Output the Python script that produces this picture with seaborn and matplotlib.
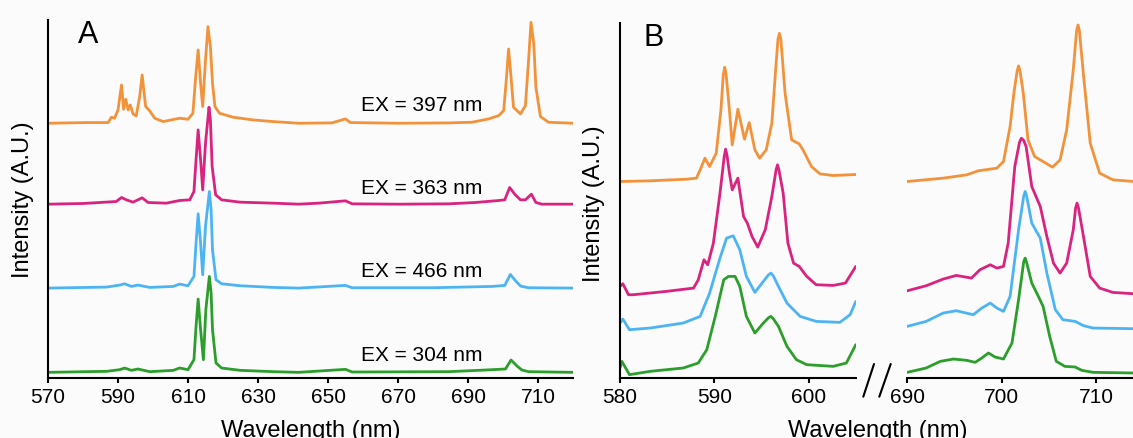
import numpy as np
import pandas as pd
import matplotlib
matplotlib.use("Agg")
import matplotlib.pyplot as plt
from matplotlib.lines import Line2D
import seaborn as sns

# ---------------- Panel A: full emission spectra (A.U.) ----------------
a_orange_wl = [570.0, 581.0, 587.2, 588.1, 589.0, 590.0, 591.0, 591.6, 592.2, 592.9, 593.5, 594.3,
               595.2, 596.2, 596.9, 597.9, 599.0, 600.5, 602.9, 607.6, 610.0, 611.4, 612.2, 612.9,
               613.6, 614.2, 615.0, 615.7, 616.4, 617.0, 617.7, 619.0, 622.9, 628.6, 634.3, 641.6,
               651.1, 655.0, 656.4, 670.2, 684.5, 691.1, 695.9, 698.8, 700.2, 701.0, 701.6, 702.3,
               703.0, 705.0, 706.4, 707.3, 708.0, 708.8, 709.4, 710.7, 713.0, 720.0]
a_orange_int = [0, 2, 2, 18, 15, 40, 115, 42, 72, 40, 55, 28,
                22, 80, 145, 50, 38, 15, 5, 15, 12, 30, 140, 220,
                120, 50, 190, 290, 230, 120, 50, 30, 18, 10, 5, 0,
                1, 13, 2, 0, 1, 3, 13, 23, 38, 138, 223, 138,
                48, 28, 53, 188, 303, 238, 108, 20, 3, 0]

a_magenta_wl = [570.0, 580.0, 589.5, 591.0, 592.4, 594.3, 596.9, 598.6, 603.8, 607.6, 610.5, 611.7,
                612.3, 612.9, 613.6, 614.2, 615.0, 616.0, 616.4, 616.9, 617.9, 619.6, 624.9, 634.4,
                641.6, 647.3, 655.0, 656.9, 670.2, 684.5, 692.1, 698.8, 700.5, 701.9, 703.5, 705.0,
                706.4, 708.1, 709.4, 711.1, 720.0]
a_magenta_int = [0, 2, 8, 20, 13, 6, 19, 5, 3, 11, 13, 38,
                 133, 223, 133, 43, 183, 291, 253, 113, 28, 13, 6, 3,
                 0, 3, 10, 1, 0, 1, 5, 11, 13, 50, 28, 13,
                 13, 30, 5, 0, 0]

a_blue_wl = [570.0, 586.7, 590.5, 591.9, 593.8, 595.7, 599.1, 605.8, 607.6, 610.0, 611.7, 612.3,
             612.9, 613.6, 614.2, 615.0, 616.1, 616.6, 617.0, 618.0, 619.6, 624.9, 634.4, 641.6,
             655.0, 656.9, 679.7, 696.9, 700.5, 702.1, 703.5, 705.0, 707.3, 720.0]
a_blue_int = [0, 3, 9, 13, 5, 9, 2, 5, 12, 7, 35, 135,
              223, 135, 40, 185, 290, 235, 115, 25, 13, 7, 2, 0,
              8, 1, 1, 5, 8, 41, 23, 6, 1, 0]

a_green_wl = [570.0, 586.7, 590.5, 591.9, 593.8, 595.7, 599.1, 605.8, 607.6, 610.0, 611.7, 612.3,
              612.9, 613.6, 614.4, 615.1, 616.1, 616.6, 617.0, 618.0, 619.6, 624.9, 634.4, 641.6,
              655.0, 656.9, 684.5, 695.0, 700.7, 702.3, 704.0, 705.4, 707.3, 720.0]
a_green_int = [0, 3, 8, 13, 6, 10, 2, 6, 13, 8, 38, 138,
               220, 128, 38, 188, 288, 238, 128, 28, 13, 6, 2, 0,
               9, 1, 2, 7, 10, 37, 19, 7, 2, 0]

# ---------------- Panel B: 580-605 nm and 690-714 nm detail ----------------
b1_orange_wl = [580.0, 583.2, 587.1, 588.1, 588.5, 589.0, 589.5, 590.2, 590.7, 590.95, 591.1, 591.25,
                591.6, 591.9, 592.5, 593.2, 593.7, 594.3, 594.8, 595.5, 596.1, 596.5, 596.75, 596.9,
                597.05, 597.2, 597.5, 598.2, 599.0, 599.4, 600.3, 601.2, 602.6, 605.0]
b1_orange_int = [0, 2, 7, 10, 35, 70, 45, 85, 215, 320, 343, 322,
                 215, 110, 217, 127, 177, 95, 70, 95, 175, 335, 428, 445,
                 428, 375, 265, 125, 113, 95, 45, 23, 18, 21]

b1_magenta_wl = [580.0, 580.3, 580.9, 581.4, 584.9, 587.8, 588.3, 588.9, 589.3, 589.9, 590.6, 591.05,
                 591.2, 591.35, 591.6, 591.9, 592.5, 593.1, 593.5, 594.0, 594.6, 595.4, 596.1, 596.55,
                 596.7, 596.85, 597.3, 597.8, 598.4, 599.0, 599.8, 600.8, 602.6, 603.9, 605.0]
b1_magenta_int = [22, 30, -3, -3, 7, 17, 42, 102, 87, 152, 302, 412,
                  434, 415, 362, 312, 347, 232, 212, 172, 140, 192, 292, 372,
                  387, 372, 302, 152, 92, 82, 52, 27, 25, 32, 82]

b1_blue_wl = [580.0, 580.3, 581.0, 583.2, 586.7, 588.5, 589.5, 590.6, 591.3, 592.0, 592.7, 593.4,
              594.3, 595.2, 595.75, 596.0, 596.25, 596.8, 597.7, 599.1, 600.8, 603.3, 604.4, 605.0]
b1_blue_int = [18, 30, -2, 3, 18, 38, 108, 213, 273, 280, 238, 158,
               110, 143, 163, 168, 160, 128, 78, 38, 23, 20, 43, 83]

b1_green_wl = [580.0, 580.2, 581.0, 583.2, 586.7, 588.3, 589.2, 590.1, 591.0, 591.5, 592.2, 592.7,
               593.4, 594.3, 595.2, 595.75, 596.0, 596.25, 596.8, 597.7, 598.7, 599.8, 602.6, 604.0,
               605.0]
b1_green_int = [15, 35, -5, 5, 15, 30, 70, 170, 280, 290, 290, 260,
                170, 120, 150, 166, 170, 163, 140, 80, 40, 25, 20, 30,
                85]

b2_orange_wl = [690.0, 693.8, 696.3, 697.5, 699.5, 700.2, 700.9, 701.3, 701.65, 701.8, 701.95, 702.3,
                702.8, 703.5, 704.4, 705.4, 706.2, 706.9, 707.6, 707.95, 708.1, 708.25, 708.7, 709.4,
                710.4, 711.8, 714.0]
b2_orange_int = [0, 10, 20, 32, 40, 60, 165, 265, 332, 347, 333, 265,
                 125, 75, 60, 43, 65, 155, 335, 452, 470, 452, 315, 115,
                 25, 5, 0]

b2_magenta_wl = [690.0, 692.0, 693.8, 695.2, 696.8, 697.7, 698.8, 699.5, 700.2, 700.7, 701.4, 701.9,
                 702.1, 702.35, 702.6, 703.2, 704.1, 704.8, 705.5, 706.2, 706.9, 707.6, 707.85, 708.0,
                 708.15, 708.5, 709.4, 710.4, 711.8, 714.0]
b2_magenta_int = [9, 24, 44, 55, 47, 72, 87, 77, 82, 152, 382, 455,
                  467, 460, 442, 322, 262, 172, 92, 62, 92, 192, 258, 272,
                  258, 202, 52, 17, 4, 0]

b2_blue_wl = [690.0, 692.0, 693.8, 695.2, 697.0, 697.9, 698.8, 699.5, 700.2, 700.9, 701.8, 702.35,
              702.5, 702.65, 703.2, 704.1, 704.8, 705.7, 706.5, 707.8, 708.7, 709.7, 714.0]
b2_blue_int = [8, 23, 48, 55, 43, 63, 78, 63, 53, 98, 298, 400,
               413, 400, 318, 273, 168, 58, 28, 23, 10, 3, 1]

b2_green_wl = [690.0, 692.0, 693.5, 694.9, 696.3, 697.2, 697.9, 698.6, 699.3, 700.2, 701.1, 701.8,
               702.35, 702.5, 702.65, 703.2, 703.9, 704.4, 705.1, 705.8, 706.7, 707.8, 708.5, 709.7,
               714.0]
b2_green_int = [2, 15, 35, 42, 38, 32, 45, 60, 48, 42, 90, 220,
                335, 345, 332, 270, 230, 200, 110, 35, 20, 18, 8, 2,
                0]

excitation_labels = ["EX = 397 nm", "EX = 363 nm", "EX = 466 nm", "EX = 304 nm"]
a_ticks = [570, 590, 610, 630, 650, 670, 690, 710]
b1_ticks = [580, 590, 600]
b2_ticks = [690, 700, 710]

# ---------------- styling ----------------
COLORS = ["#F2923A", "#D9237F", "#4DB4F4", "#2C9E2C"]   # orange, magenta, blue, green
A_OFFSETS = [748, 505, 253, 0]
B_OFFSETS = [575, 238, 132, 0]
BG = "#FBFBFB"

sns.set_theme(style="white")
plt.rcParams["font.family"] = ["Liberation Sans", "DejaVu Sans"]
plt.rcParams["axes.linewidth"] = 1.5
plt.rcParams["text.color"] = "black"

W, H = 1133, 438
fig = plt.figure(figsize=(W / 100, H / 100), dpi=100, facecolor=BG)


def frac_box(x0, y_top, x1, y_bot):
    return [x0 / W, (H - y_bot) / H, (x1 - x0) / W, (y_bot - y_top) / H]


axA = fig.add_axes(frac_box(48, 20, 573, 378))
axB1 = fig.add_axes(frac_box(620, 23.3, 855.8, 378))
axB2 = fig.add_axes(frac_box(907.3, 23.3, 1133, 378))


def draw(ax, wl, inten, offset, color):
    df = pd.DataFrame({"wl": wl, "I": np.asarray(inten, dtype=float) + offset})
    sns.lineplot(data=df, x="wl", y="I", ax=ax, color=color, lw=2.0,
                 estimator=None, sort=False)
    ax.lines[-1].set_solid_joinstyle("round")


a_series = [(a_orange_wl, a_orange_int), (a_magenta_wl, a_magenta_int),
            (a_blue_wl, a_blue_int), (a_green_wl, a_green_int)]
b1_series = [(b1_orange_wl, b1_orange_int), (b1_magenta_wl, b1_magenta_int),
             (b1_blue_wl, b1_blue_int), (b1_green_wl, b1_green_int)]
b2_series = [(b2_orange_wl, b2_orange_int), (b2_magenta_wl, b2_magenta_int),
             (b2_blue_wl, b2_blue_int), (b2_green_wl, b2_green_int)]

for (wl, iv), off, c in zip(a_series, A_OFFSETS, COLORS):
    draw(axA, wl, iv, off, c)
for (wl, iv), off, c in zip(b1_series, B_OFFSETS, COLORS):
    draw(axB1, wl, iv, off, c)
for (wl, iv), off, c in zip(b2_series, B_OFFSETS, COLORS):
    draw(axB2, wl, iv, off, c)

# excitation labels above each baseline in panel A
label_heights = [786, 536, 285, 33]
for txt, yv in zip(excitation_labels, label_heights):
    axA.text(659.3, yv, txt, ha="left", va="baseline", fontsize=15, color="black")

axA.set_xlim(570, 720)
axA.set_ylim(-17, 1058)
axB1.set_xlim(580, 605)
axB1.set_ylim(-15, 1050)
axB2.set_xlim(690, 690 + (1133 - 907.3) / 9.43)
axB2.set_ylim(-15, 1050)

axA.set_xticks(a_ticks)
axB1.set_xticks(b1_ticks)
axB2.set_xticks(b2_ticks)

for ax in (axA, axB1, axB2):
    ax.set_facecolor(BG)
    ax.set_xlabel("")
    ax.set_ylabel("")
    ax.set_yticks([])
    for s in ("top", "right"):
        ax.spines[s].set_visible(False)
    for s in ("left", "bottom"):
        ax.spines[s].set_color("black")
        ax.spines[s].set_linewidth(1.5)
    ax.tick_params(axis="x", direction="out", length=3.6, width=1.5, pad=3.5,
                   labelsize=15, colors="black", bottom=True)
axB2.spines["left"].set_visible(False)

# panel letters and axis titles
fig.text(78 / W, (H - 43.3) / H, "A", fontsize=22, ha="left", va="baseline", color="black")
fig.text(643 / W, (H - 46) / H, "B", fontsize=22, ha="left", va="baseline", color="black")
fig.text(23 / W, (H - 200) / H, "Intensity (A.U.)", rotation=90, fontsize=17,
         ha="center", va="center", color="black")
fig.text(594 / W, (H - 204) / H, "Intensity (A.U.)", rotation=90, fontsize=17,
         ha="center", va="center", color="black")
fig.text(310.5 / W, 1.0 / H, "Wavelength (nm)", fontsize=17, ha="center", va="baseline",
         color="black")
fig.text(878 / W, 1.0 / H, "Wavelength (nm)", fontsize=17, ha="center", va="baseline",
         color="black")

# axis-break marks between the two detail windows
for x_lo, x_hi in ((863.3, 874.0), (879.3, 890.7)):
    fig.add_artist(Line2D([x_lo / W, x_hi / W], [(H - 396.7) / H, (H - 364) / H],
                          transform=fig.transFigure, color="black", lw=1.5))

fig.savefig("out.png", dpi=100, facecolor=BG)
